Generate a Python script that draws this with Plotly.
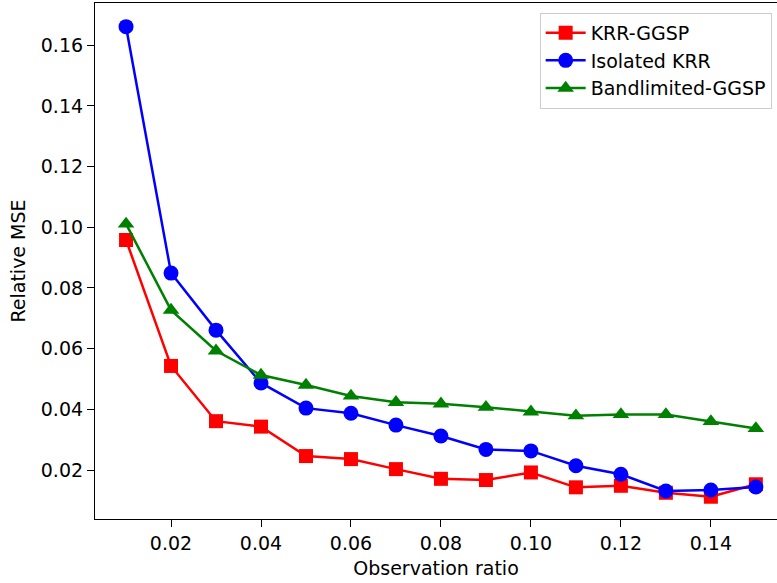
import plotly.graph_objects as go

# Observation ratios (x) and relative MSE for each method
ratio = [0.01, 0.02, 0.03, 0.04, 0.05, 0.06, 0.07, 0.08, 0.09, 0.10, 0.11, 0.12, 0.13, 0.14, 0.15]
krr_ggsp = [0.0958, 0.0543, 0.0361, 0.0343, 0.0246, 0.0236, 0.0203, 0.0171, 0.0167, 0.0192,
            0.0143, 0.0148, 0.0125, 0.0112, 0.0153]
isolated_krr = [0.1661, 0.0849, 0.0661, 0.0487, 0.0404, 0.0387, 0.0348, 0.0312, 0.0268, 0.0263,
                0.0214, 0.0186, 0.0131, 0.0134, 0.0144]
bandlimited_ggsp = [0.1011, 0.0727, 0.0593, 0.0513, 0.0480, 0.0444, 0.0423, 0.0418, 0.0407, 0.0392,
                    0.0379, 0.0383, 0.0383, 0.0360, 0.0337]

x_ticks = [0.02, 0.04, 0.06, 0.08, 0.10, 0.12, 0.14]
y_ticks = [0.02, 0.04, 0.06, 0.08, 0.10, 0.12, 0.14, 0.16]

FONT = "DejaVu Sans"

fig = go.Figure()
fig.add_trace(go.Scatter(x=ratio, y=krr_ggsp, mode="lines+markers", name="KRR-GGSP",
                         line=dict(color="#ff0000", width=2.5),
                         marker=dict(symbol="square", size=14, color="#ff0000")))
fig.add_trace(go.Scatter(x=ratio, y=isolated_krr, mode="lines+markers", name="Isolated KRR",
                         line=dict(color="#0000ff", width=2.5),
                         marker=dict(symbol="circle", size=15, color="#0000ff")))
fig.add_trace(go.Scatter(x=ratio, y=bandlimited_ggsp, mode="lines+markers", name="Bandlimited-GGSP",
                         line=dict(color="#008000", width=2.5),
                         marker=dict(symbol="triangle-up", size=14.5, color="#008000")))

axis_common = dict(showgrid=False, zeroline=False, showline=True, linecolor="black", linewidth=1.2,
                   ticks="outside", ticklen=7, tickwidth=1.2, tickcolor="black",
                   tickfont=dict(family=FONT, size=19, color="black"))

fig.update_xaxes(range=[0.0031, 0.1547], tickvals=x_ticks,
                 ticktext=[f"{v:.2f}" for v in x_ticks], mirror=True,
                 title=dict(text="Observation ratio", font=dict(family=FONT, size=19, color="black"),
                            standoff=8),
                 **axis_common)
fig.update_yaxes(range=[0.00386, 0.1739], tickvals=y_ticks,
                 ticktext=[f"{v:.2f}" for v in y_ticks],
                 title=dict(text="Relative MSE", font=dict(family=FONT, size=19, color="black"),
                            standoff=10),
                 **axis_common)

fig.update_layout(
    width=777, height=583,
    margin=dict(l=95, r=0, t=3, b=64, autoexpand=False),
    paper_bgcolor="white", plot_bgcolor="white",
    font=dict(family=FONT, size=19, color="black"),
    showlegend=True,
    legend=dict(x=0.652, y=0.981, xanchor="left", yanchor="top",
                bgcolor="rgba(255,255,255,0.8)", bordercolor="#cccccc", borderwidth=1,
                font=dict(family=FONT, size=19, color="black"), itemwidth=40,
                tracegroupgap=0),
)

fig.write_html("out.html")
